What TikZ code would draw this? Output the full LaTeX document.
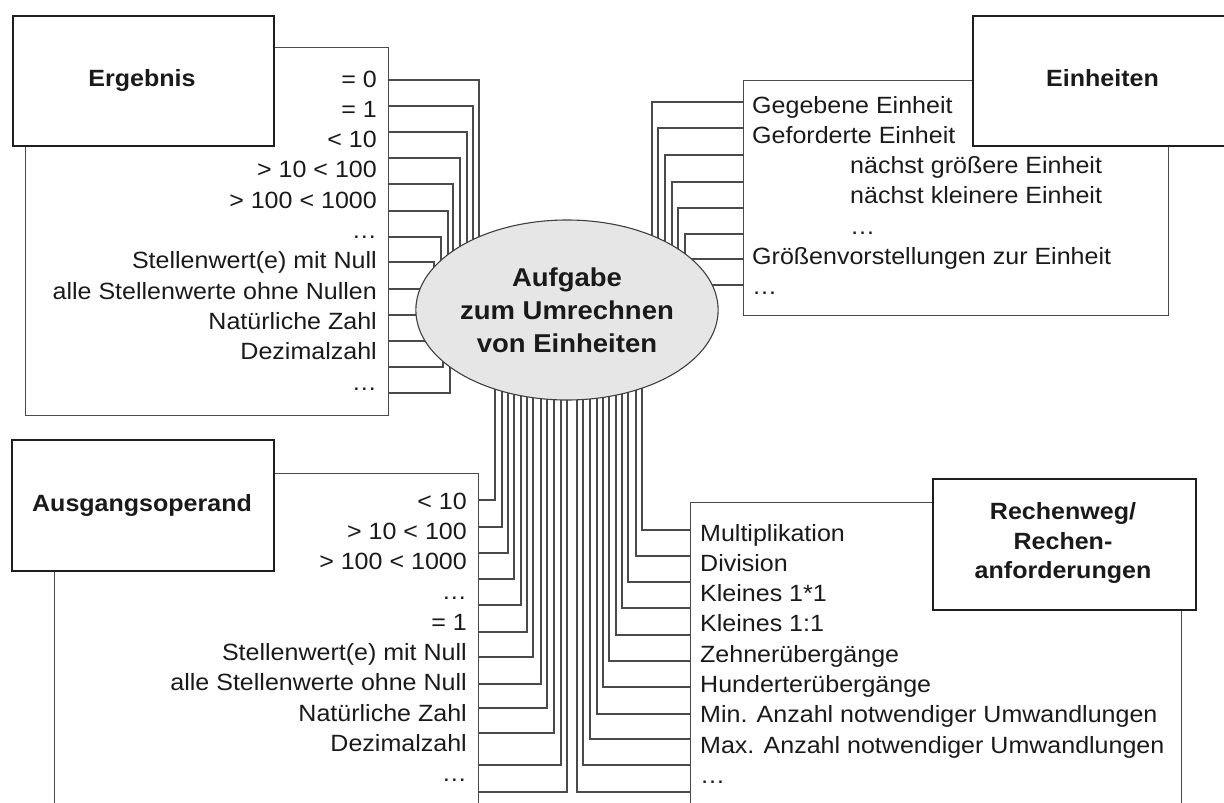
\documentclass[tikz,border=0pt]{standalone}
\usepackage{fontspec}
\setmainfont{Liberation Sans}[FakeStretch=1.065]
\usetikzlibrary{shapes.geometric}
\definecolor{linegray}{HTML}{4A4A4A}
\definecolor{boxedge}{HTML}{1E1E1E}
\definecolor{bubble}{HTML}{E6E6E6}
\definecolor{ink}{HTML}{1A1A1A}

\begin{document}
\begin{tikzpicture}[x=1pt,y=-1pt,
  listbox/.style={draw=linegray, line width=1.3pt, fill=white, inner sep=0pt, anchor=north west},
  headbox/.style={draw=boxedge, line width=2.3pt, fill=white, inner sep=0pt, anchor=north west},
  conn/.style={draw=linegray, line width=1.3pt},
  item/.style={text=ink, inner sep=0pt, font=\fontsize{23.5}{28}\selectfont},
  itemR/.style={item, anchor=base east},
  itemL/.style={item, anchor=base west},
  title/.style={text=ink, inner sep=0pt, align=center,
    font=\fontsize{23.5}{29.5}\selectfont\bfseries},
  hub/.style={ellipse, draw=boxedge!85, line width=1.1pt, fill=bubble, inner sep=0pt,
    minimum width=284pt, minimum height=180pt, text=ink, align=center,
    font=\fontsize{25.8}{33}\selectfont\bfseries}
]
\clip (0,0) rectangle (1224,803);
\fill[white] (0,0) rectangle (1224,803);

% list frames of the four categories
\node[listbox, minimum width=363pt, minimum height=368pt] (ergL) at (25,47) {};
\node[listbox, minimum width=425pt, minimum height=235pt] (einL) at (743,80) {};
\node[listbox, minimum width=424pt, minimum height=360pt] (ausL) at (54,473) {};
\node[listbox, minimum width=491pt, minimum height=330pt] (recL) at (690,502) {};

% centre of the hub
\coordinate (hubc) at (567,310);

% stepped connectors, all ending under the hub
\foreach \yy/\xx in {80/479, 106/473, 132/467, 158/460, 184/453, 211/448, 237/441,
                     262/434, 289/567, 315/567, 341/437, 367/443, 393/450}
  \draw[conn] (ergL.east |- 0,\yy) -| (\xx,0 |- hubc);
\foreach \yy/\xx in {102/652, 128/658, 155/665, 182/672, 208/678, 234/685, 259/691, 285/567}
  \draw[conn] (einL.west |- 0,\yy) -| (\xx,0 |- hubc);
\foreach \yy/\xx in {500/495, 527/502, 553/508, 579/514, 605/521, 632/527, 657/533,
                     684/541, 708/547, 733/554, 765/561, 792/567}
  \draw[conn] (ausL.east |- 0,\yy) -| (\xx,0 |- hubc);
\foreach \yy/\xx in {530/642, 556/636, 582/628, 608/622, 635/616, 661/609, 687/603,
                     714/597, 739/590, 765/583, 792/577}
  \draw[conn] (recL.west |- 0,\yy) -| (\xx,0 |- hubc);

% hub
\node[hub] (ell) at (hubc) {Aufgabe\\zum Umrechnen\\von Einheiten};

% header boxes
\node[headbox, minimum width=261pt, minimum height=130pt] (ergH) at (12,15) {};
\node[headbox, minimum width=261pt, minimum height=130pt] (einH) at (972,15) {};
\node[headbox, minimum width=262pt, minimum height=131pt] (ausH) at (11,439) {};
\node[headbox, minimum width=263pt, minimum height=131pt] (recH) at (932,478) {};

\node[title, anchor=base] (ergT) at (142,86) {Ergebnis};
\node[title, anchor=base] (einT) at (1102.5,86) {Einheiten};
\node[title, anchor=base] (ausT) at (142,511) {Ausgangsoperand};
\node[title, anchor=center] (recT) at (1063,543.4) {Rechenweg/\\Rechen-\\anforderungen};

% entries
\foreach \t [count=\i from 0] in {= 0, = 1, < 10, > 10 < 100, > 100 < 1000, …,
    Stellenwert(e) mit Null, alle Stellenwerte ohne Nullen, Natürliche Zahl,
    Dezimalzahl, …}
  \node[itemR] (ergI\i) at (377,{87+30.3*\i}) {\t};

\foreach \xx/\t [count=\i from 0] in {752/Gegebene Einheit, 752/Geforderte Einheit,
    850/nächst größere Einheit, 850/nächst kleinere Einheit, 850/…,
    752/Größenvorstellungen zur Einheit, 752/…}
  \node[itemL] (einI\i) at (\xx,{113+30.3*\i}) {\t};

\foreach \t [count=\i from 0] in {< 10, > 10 < 100, > 100 < 1000, …, = 1,
    Stellenwert(e) mit Null, alle Stellenwerte ohne Null, Natürliche Zahl,
    Dezimalzahl, …}
  \node[itemR] (ausI\i) at (467,{509+30.3*\i}) {\t};

\foreach \t [count=\i from 0] in {Multiplikation, Division, Kleines 1*1, Kleines 1:1,
    Zehnerübergänge, Hunderterübergänge, Min. Anzahl notwendiger Umwandlungen,
    Max. Anzahl notwendiger Umwandlungen, …}
  \node[itemL] (recI\i) at (700,{541+30.3*\i}) {\t};
\end{tikzpicture}
\end{document}
